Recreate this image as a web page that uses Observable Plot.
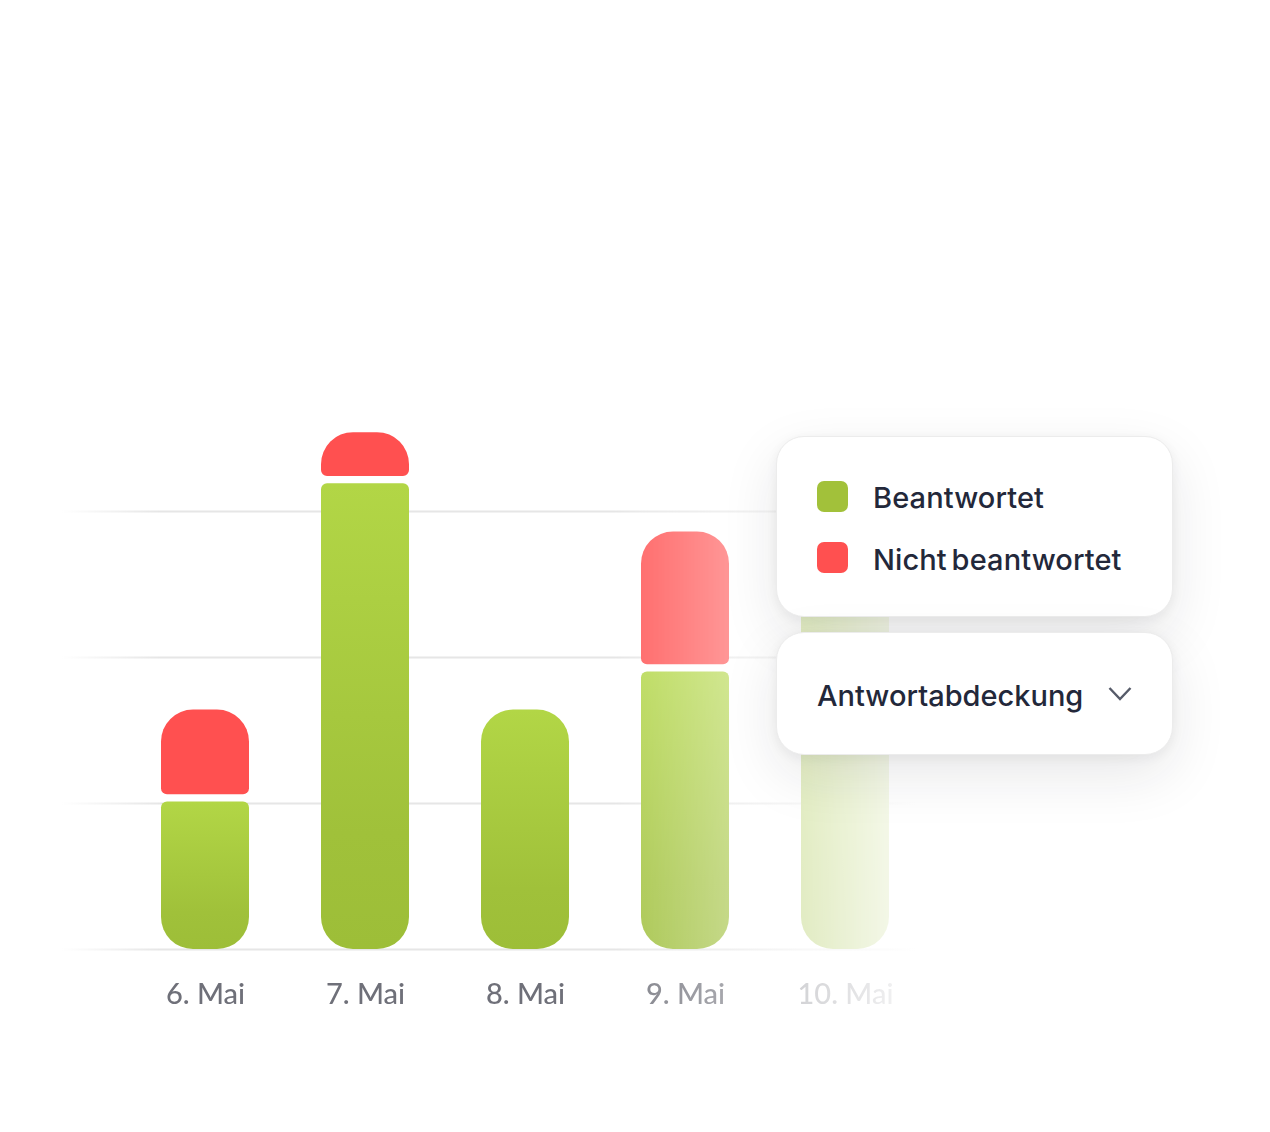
<!DOCTYPE html>
<html lang="de">
<head>
<meta charset="utf-8">
<script src="https://cdn.jsdelivr.net/npm/d3@7"></script>
<script src="https://cdn.jsdelivr.net/npm/@observablehq/plot@0.6"></script>
<style>
html,body{margin:0;padding:0;background:#fff;}
#stage{position:relative;width:1270px;height:1132px;overflow:hidden;background:#fff;}
#chart svg{display:block;
 -webkit-mask-image:linear-gradient(to right,transparent 62px,#000 160px,#000 615px,rgba(0,0,0,.82) 641px,rgba(0,0,0,.6) 729px,rgba(0,0,0,.3) 801px,rgba(0,0,0,.12) 889px,transparent 915px);
 mask-image:linear-gradient(to right,transparent 62px,#000 160px,#000 615px,rgba(0,0,0,.82) 641px,rgba(0,0,0,.6) 729px,rgba(0,0,0,.3) 801px,rgba(0,0,0,.12) 889px,transparent 915px);}
.panel{position:absolute;left:775.5px;width:397px;box-sizing:border-box;background:#fff;border:1.5px solid #ececec;border-radius:28px;
 box-shadow:0 20px 56px rgba(30,30,40,.10),0 3px 12px rgba(30,30,40,.06);
 font-family:Inter,"Noto Sans",sans-serif;font-weight:500;font-size:29px;color:#23283a;}
.row{position:absolute;left:96.5px;white-space:nowrap;line-height:36px;letter-spacing:.1px;}
.sw{position:absolute;left:40.5px;width:30.5px;height:30.5px;border-radius:7px;}
</style>
</head>
<body>
<div id="stage">
 <div id="chart"></div>
 <div class="panel" id="legend" style="top:436px;height:181px;"></div>
 <div class="panel" style="top:632px;height:123px;">
  <div class="row" id="selectLabel" style="left:40.5px;top:45px;letter-spacing:0"></div>
  <svg style="position:absolute;left:331px;top:53px" width="24" height="16" viewBox="0 0 24 16"><path d="M1.5 2 L12 13 L22.5 2" fill="none" stroke="#565b69" stroke-width="2.4"/></svg>
 </div>
</div>
<script>
const days = ["6. Mai","7. Mai","8. Mai","9. Mai","10. Mai"];
const answered = [10.1,31.9,16.4,19,27];
const unansweredLow = [10.6,32.4,null,19.5,null];
const unansweredHigh = [16.4,35.4,null,28.6,null];
const gridValues = [0,10,20,30];
const legendLabels = ["Beantwortet","Nicht beantwortet"];
const legendColors = ["#a2c13a","#ff5050"];
const selectText = "Antwortabdeckung";

const greenRows = days.map((d,i)=>({d,v:answered[i],red:unansweredLow[i]!==null}));
const redRows = days.map((d,i)=>({d,lo:unansweredLow[i],hi:unansweredHigh[i]})).filter(r=>r.lo!==null);

const defs = () => {
  const ns="http://www.w3.org/2000/svg";
  const g=document.createElementNS(ns,"defs");
  g.innerHTML=`<linearGradient id="gGreen" x1="0" y1="0" x2="0" y2="1">
    <stop offset="0" stop-color="#b2d646"/><stop offset="0.75" stop-color="#a0c13a"/><stop offset="1" stop-color="#9dbe38"/></linearGradient>`;
  return g;
};

const chart = Plot.plot({
  width:1270,height:1132,
  marginTop:0,marginBottom:183,marginLeft:0,marginRight:0,
  style:{background:"transparent"},
  x:{domain:days,range:[89,961],padding:0.45,label:null},
  y:{domain:[0,65],axis:null,label:null},
  marks:[
    defs,
    Plot.ruleY(gridValues,{stroke:"#e6e6e6",strokeWidth:2}),
    Plot.barY(greenRows.filter(r=>r.red||r.d==="10. Mai"),{x:"d",y1:0,y2:"v",fill:"url(#gGreen)",rx1y1:6,rx2y1:6,rx1y2:32,rx2y2:32}),
    Plot.barY(greenRows.filter(r=>!r.red&&r.d!=="10. Mai"),{x:"d",y1:0,y2:"v",fill:"url(#gGreen)",r:32}),
    Plot.barY(redRows,{x:"d",y1:"lo",y2:"hi",fill:"#ff5050",rx1y1:32,rx2y1:32,rx1y2:6,rx2y2:6}),
    Plot.axisX({tickSize:0,tickPadding:34,fontSize:29,fontFamily:"Lato",fontWeight:500,fill:"#6f7079",label:null})
  ]
});
document.getElementById("chart").appendChild(chart);

const legend=document.getElementById("legend");
legendLabels.forEach((t,i)=>{
  const top=[44,105][i];
  const s=document.createElement("div");s.className="sw";s.style.top=top+"px";s.style.background=legendColors[i];legend.appendChild(s);
  const r=document.createElement("div");r.className="row";r.style.top=(top-1+i)+"px";r.style.wordSpacing="-3px";r.textContent=t;legend.appendChild(r);
});
document.getElementById("selectLabel").textContent=selectText;
</script>
</body>
</html>
